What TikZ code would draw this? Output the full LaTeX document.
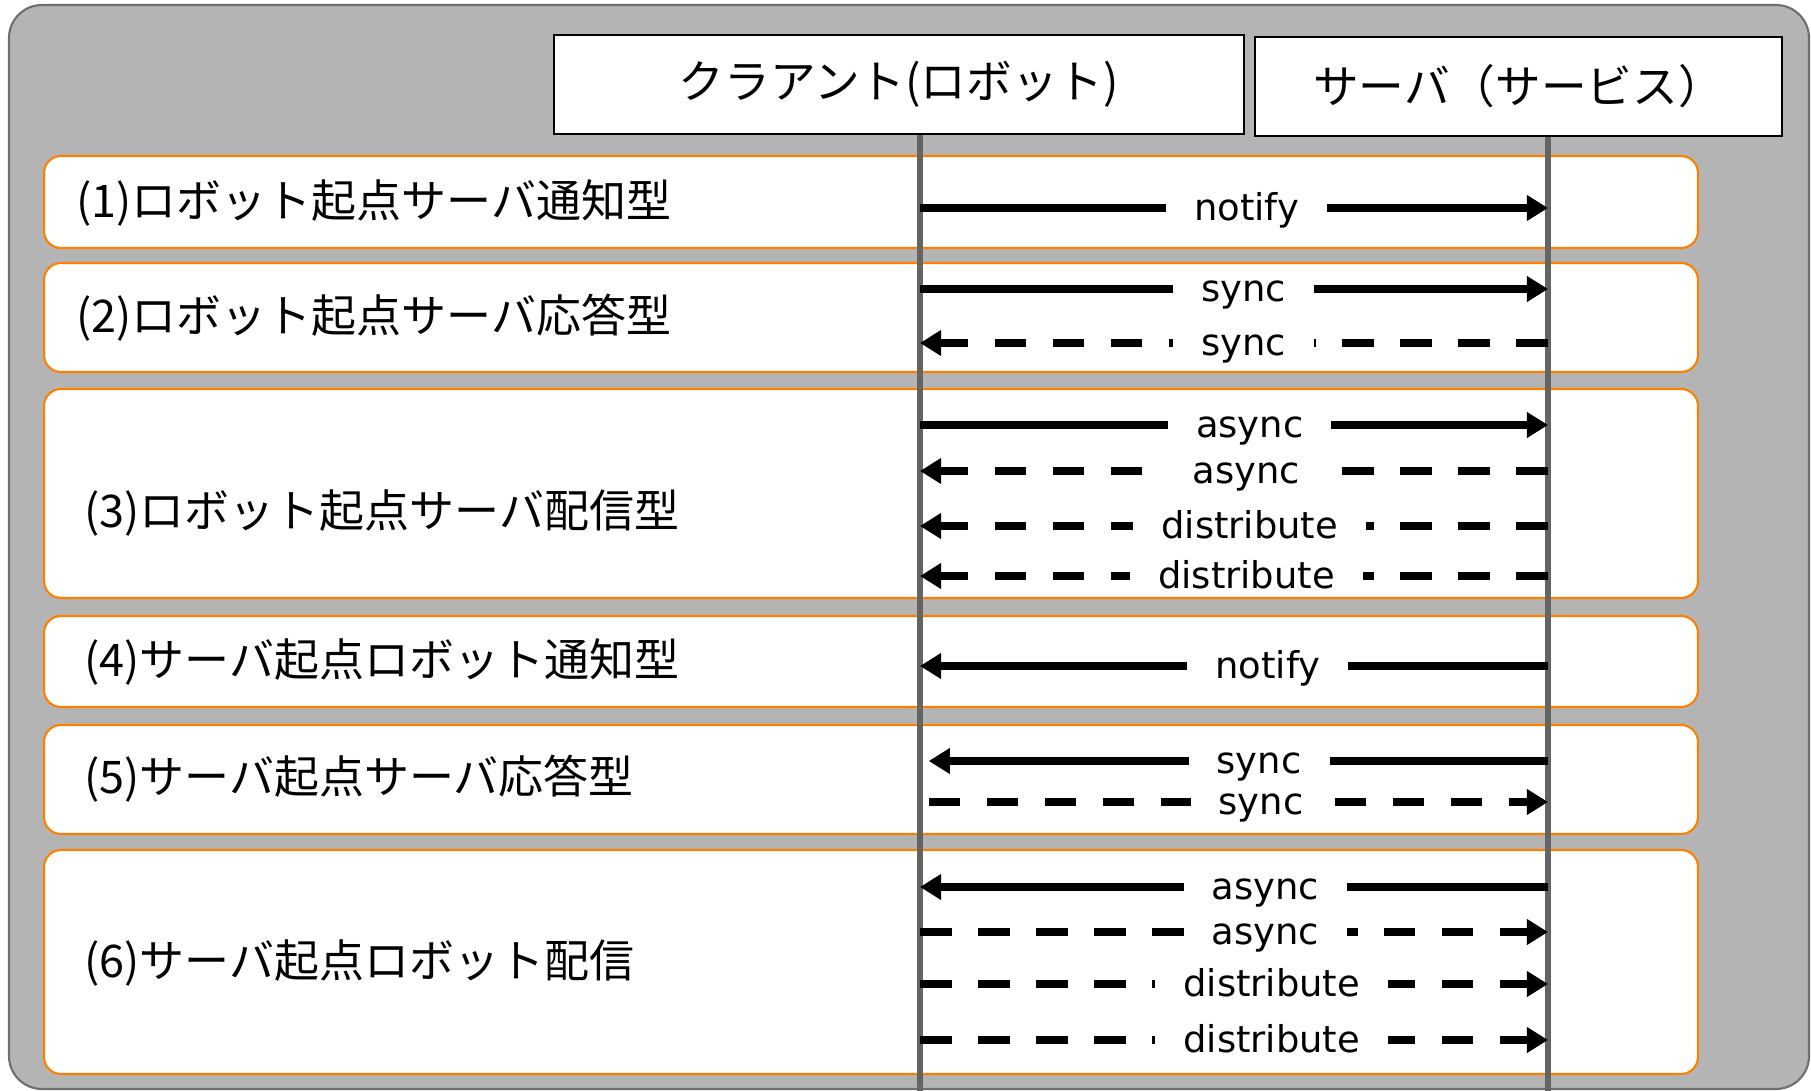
\documentclass[tikz,border=0pt]{standalone}
\usepackage{fontspec}
\setmainfont{DejaVu Sans}
\newfontfamily\jpFont{Noto Sans CJK JP}
\usetikzlibrary{arrows.meta}
\tikzstyle{chart} = [x = .02cm, y = -.02cm]
\definecolor{frameColor}{RGB}{180,180,180}
\definecolor{frameEdgeColor}{RGB}{110,110,110}
\definecolor{rowColor}{RGB}{255,128,0}
\definecolor{lifeColor}{RGB}{100,100,100}
\tikzstyle{frameStyle} = [fill=frameColor, draw=frameEdgeColor, line width=1.2pt, rounded corners = .66cm]
\tikzstyle{headerStyle} = [draw=black, fill=white, line width=1.2pt, minimum height=1.98cm, inner sep=0pt, font=\jpFont\fontsize{26}{31}\selectfont]
\tikzstyle{rowStyle} = [draw=rowColor, fill=white, line width=1.2pt, rounded corners = .34cm]
\tikzstyle{rowText} = [anchor=west, inner sep=0pt, font=\jpFont\fontsize{25.6}{30}\selectfont]
\tikzstyle{lifeLine} = [color=lifeColor, line width=3.2pt]
\tikzstyle{msgLine} = [line width=4pt]
\tikzstyle{msgDash} = [dash pattern=on 18pt off 15pt]
\tikzstyle{msgText} = [fill=white, inner xsep=16pt, inner ysep=0pt, text height=17pt, text depth=3pt, font=\fontsize{21}{25}\selectfont]
\tikzstyle{msgTip} = [-{Triangle[length=12pt, width=14pt]}]
\newcommand{\clientX}{920}
\newcommand{\serverX}{1548}
\newcommand{\stageRow}[5]{
  \filldraw [rowStyle] (44, #2) rectangle (1698, #3);
  \node [rowText] (stage#1) at (#4) {#5};
}
\newcommand{\toServer}[5]{
  \coordinate (cl#1) at (\clientX, #2);
  \coordinate (sv#1) at (\serverX, #2);
  \draw [msgLine, msgTip, #5] (cl#1) -- (sv#1) node [msgText, pos=#4] (msg#1) {#3};
}
\newcommand{\toClient}[5]{
  \coordinate (cl#1) at (\clientX, #2);
  \coordinate (sv#1) at (\serverX, #2);
  \draw [msgLine, msgTip, #5] (sv#1) -- (cl#1) node [msgText, pos=#4] (msg#1) {#3};
}

\begin{document}
\begin{tikzpicture}[chart]
      \useasboundingbox (0,0) rectangle (1811,1091);
      \filldraw [frameStyle] (9,5) rectangle (1809,1089);

      \node [headerStyle, minimum width=13.8cm] (client) at (899,84.5) {クラアント(ロボット)};
      \node [headerStyle, minimum width=10.54cm] (server) at (1518.5,86.5) {サーバ（サービス）};

      \stageRow{1}{156}{248}{76,203}{(1)ロボット起点サーバ通知型}
      \stageRow{2}{263}{372}{76,318}{(2)ロボット起点サーバ応答型}
      \stageRow{3}{389}{598}{84,513}{(3)ロボット起点サーバ配信型}
      \stageRow{4}{616}{707}{84,662}{(4)サーバ起点ロボット通知型}
      \stageRow{5}{725}{834}{84,779}{(5)サーバ起点サーバ応答型}
      \stageRow{6}{850}{1074}{84,963}{(6)サーバ起点ロボット配信}

      \coordinate (clientEnd) at (\clientX,1091);
      \coordinate (serverEnd) at (\serverX,1091);
      \draw [lifeLine] (client.south -| clientEnd) -- (clientEnd);
      \draw [lifeLine] (server.south -| serverEnd) -- (serverEnd);

      \toServer{a}{208}{notify}{.52}{}
      \toServer{b}{289}{sync}{.515}{}
      \toClient{c}{343}{sync}{.485}{msgDash}
      \toServer{d}{425}{async}{.525}{}
      \toClient{e}{471}{async}{.48}{msgDash}
      \toClient{f}{526}{distribute}{.475}{msgDash}
      \toClient{g}{576}{distribute}{.48}{msgDash}
      \toClient{h}{666}{notify}{.446}{}
      \toClient{i}{761}{sync}{.46}{shorten >=5pt}
      \toServer{j}{802}{sync}{.543}{msgDash, shorten <=5pt}
      \toClient{k}{887}{async}{.45}{}
      \toServer{l}{932}{async}{.55}{msgDash}
      \toServer{m}{984}{distribute}{.56}{msgDash}
      \toServer{n}{1040}{distribute}{.56}{msgDash}
    \end{tikzpicture}
\end{document}
